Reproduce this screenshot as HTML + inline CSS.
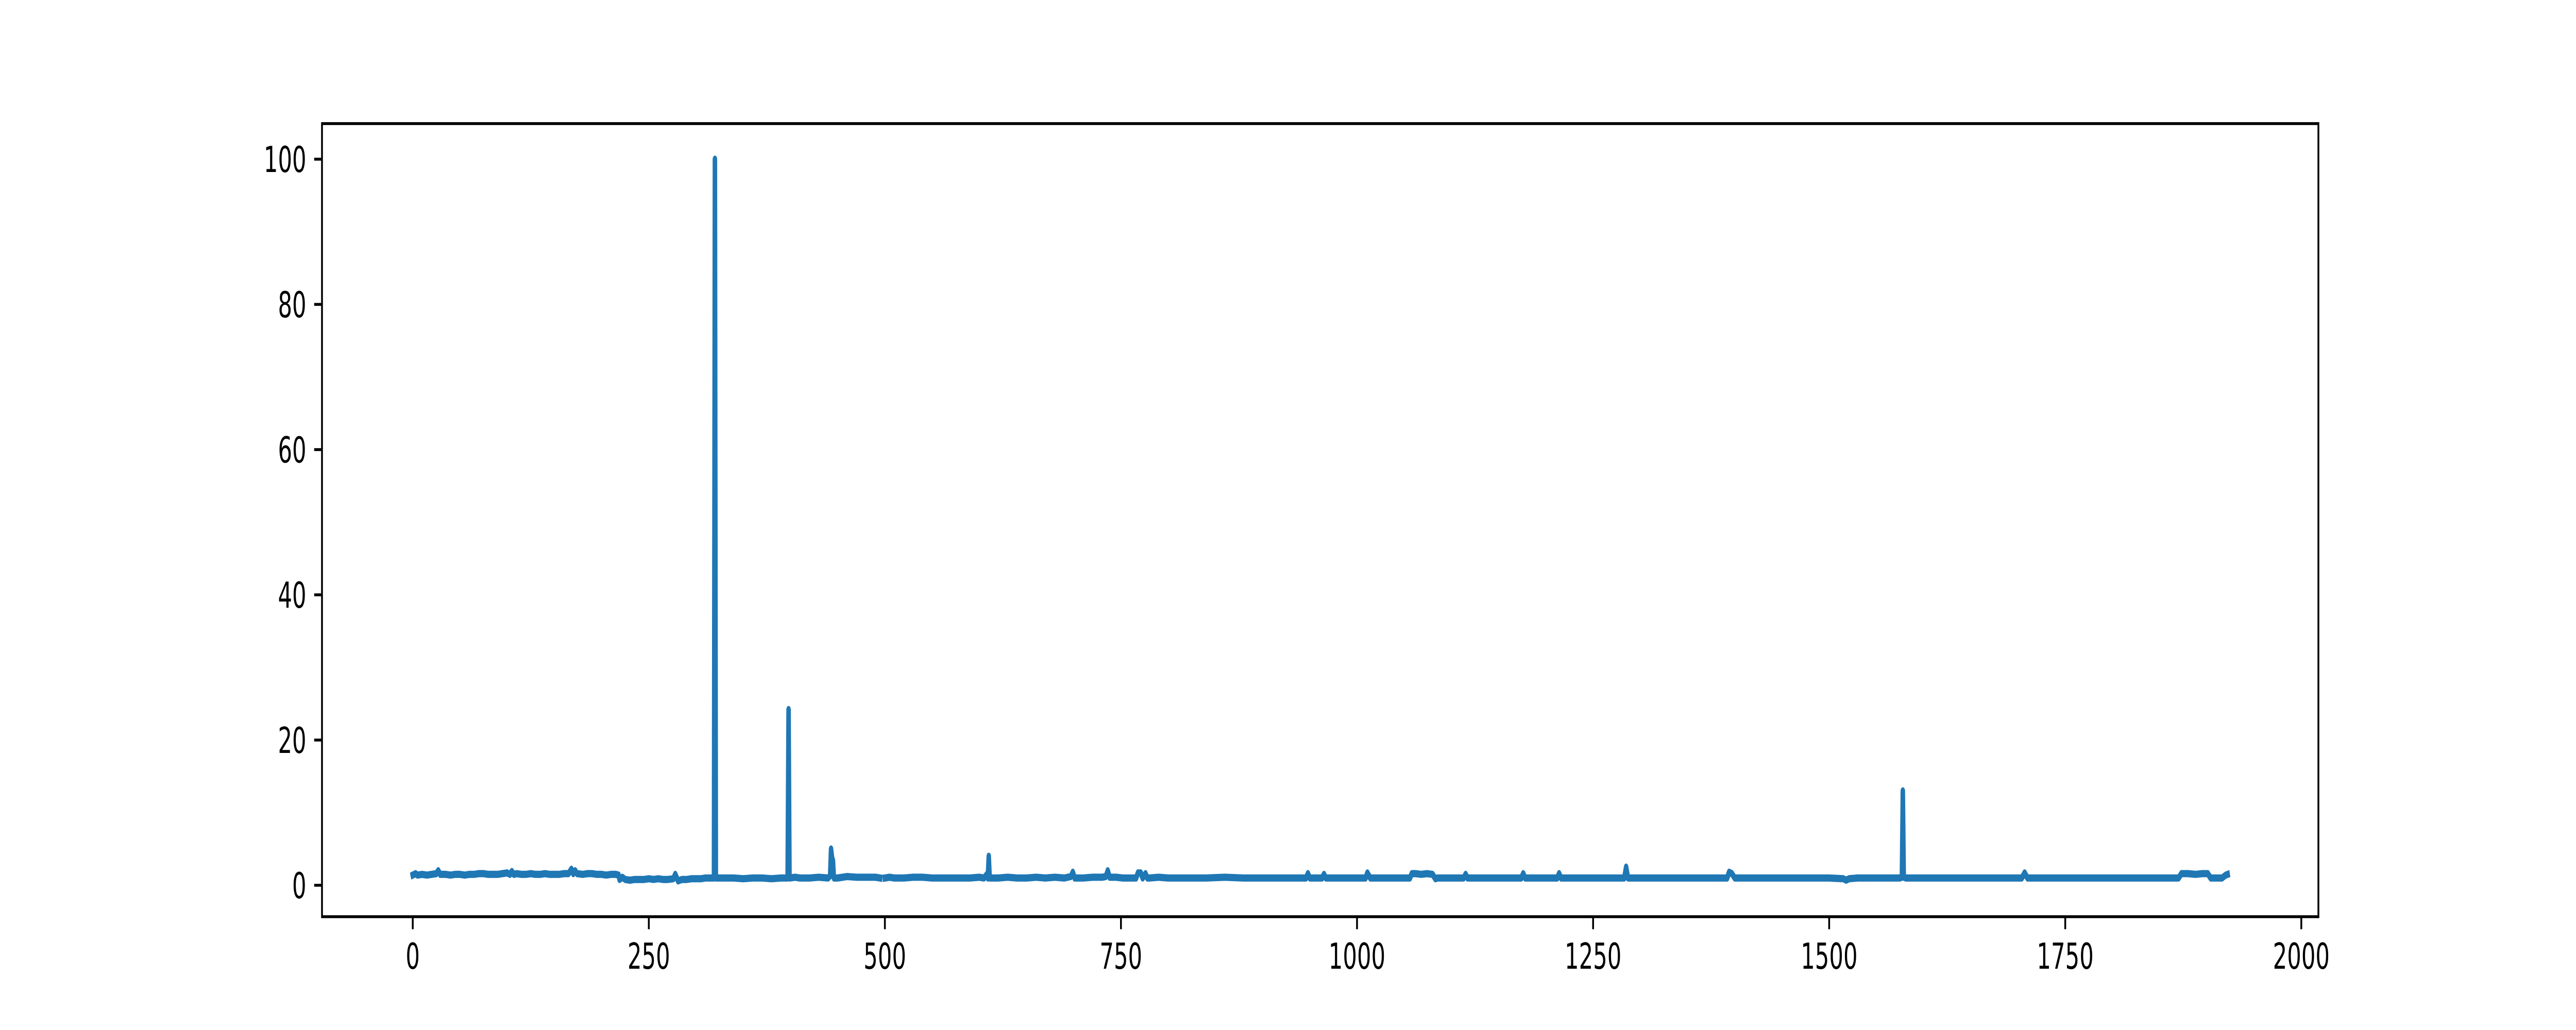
<!DOCTYPE html>
<html><head><meta charset="utf-8"><style>
html,body{margin:0;padding:0;background:#fff;width:100%;height:100%;overflow:hidden;}
svg{display:block;width:100vw;height:100vh;font-family:"DejaVu Sans","Liberation Sans",sans-serif;}
</style></head><body>
<svg id="chart" viewBox="0 0 8000 2000" preserveAspectRatio="none" xmlns="http://www.w3.org/2000/svg">
<rect x="0" y="0" width="8000" height="2000" fill="#fff"/>
<g id="plot"></g>
</svg>
<script>
const xs = [
0,3,5,10,15,20,25,27,29,35,40,45,50,55,60,65,70,75,80,85,90,95,100,103,105,107,110,115,120,125,130,135,140,145,150,155,160,165,168,170,172,174,180,185,190,195,200,205,210,215,218,219,222,225,230,235,240,245,250,255,260,265,270,276,278,280,281,285,290,295,300,305,310,315,319,320,321,325,330,340,350,360,370,380,390,397,398,399,405,410,420,430,440,442,443,444,445,446,450,460,470,480,490,495,497,500,505,510,520,530,540,550,560,570,580,590,600,605,608,609,610,611,620,630,640,650,660,670,680,690,697,699,701,710,720,730,734,736,738,745,752,760,766,768,771,773,776,778,
780,790,800,820,840,860,880,900,920,940,
946,948,950,963,965,967,980,1000,1009,1011,
1014,1020,1030,1040,1050,1056,1058,1062,1068,1074,
1080,1083,1085,1090,1100,1113,1115,1117,1120,1130,
1140,1150,1160,1174,1176,1178,1190,1200,1212,1214,
1216,1230,1250,1270,1283,1285,1287,1300,1320,1340,
1360,1380,1392,1394,1397,1400,1420,1440,1460,1480,
1500,1515,1518,1521,1530,1545,1560,1575,1577,1578,
1579,1581,1590,1610,1630,1650,1670,1690,1704,1707,
1710,1720,1740,1760,1780,1800,1820,1840,1860,1870,
1873,1880,1888,1895,1901,1904,1910,1916,1920,1922];
const ys = [
1.4,1.6,1.4,1.5,1.4,1.5,1.6,2.0,1.5,1.5,1.4,1.5,1.5,1.4,1.5,1.5,1.6,1.6,1.5,1.5,1.5,1.6,1.7,1.5,1.9,1.5,1.6,1.5,1.5,1.6,1.5,1.5,1.6,1.5,1.5,1.5,1.6,1.6,2.2,1.6,2.0,1.6,1.5,1.6,1.6,1.5,1.5,1.4,1.5,1.5,1.4,0.8,1.1,0.8,0.7,0.8,0.8,0.8,0.9,0.8,0.9,0.8,0.8,0.9,1.5,0.9,0.6,0.8,0.8,0.9,0.9,0.9,1.0,1.0,1.0,100,1.0,1.0,1.0,1.0,0.9,1.0,1.0,0.9,1.0,1.0,24.2,1.0,1.1,1.0,1.0,1.1,1.0,1.3,5.0,3.8,3.4,1.0,1.0,1.2,1.1,1.1,1.1,1.0,null,1.0,1.1,1.0,1.0,1.1,1.1,1.0,1.0,1.0,1.0,1.0,1.1,1.0,1.5,1.0,4.0,1.0,1.0,1.1,1.0,1.0,1.1,1.0,1.1,1.0,1.2,1.8,1.0,1.0,1.1,1.1,1.2,2.0,1.1,1.1,1.0,1.0,1.0,1.7,1.7,1.0,1.6,1.0,
1.0,1.1,1.0,1.0,1.0,1.1,1.0,1.0,1.0,1.0,
1.0,1.6,1.0,1.0,1.5,1.0,1.0,1.0,1.0,1.7,
1.0,1.0,1.0,1.0,1.0,1.0,1.6,1.6,1.5,1.6,
1.5,0.9,1.0,1.0,1.0,1.0,1.5,1.0,1.0,1.0,
1.0,1.0,1.0,1.0,1.6,1.0,1.0,1.0,1.0,1.6,
1.0,1.0,1.0,1.0,1.0,2.5,1.0,1.0,1.0,1.0,
1.0,1.0,1.0,1.8,1.6,1.0,1.0,1.0,1.0,1.0,
1.0,0.9,0.7,0.9,1.0,1.0,1.0,1.0,1.1,13.0,
1.1,1.0,1.0,1.0,1.0,1.0,1.0,1.0,1.0,1.7,
1.0,1.0,1.0,1.0,1.0,1.0,1.0,1.0,1.0,1.0,
1.6,1.6,1.5,1.6,1.6,1.0,1.0,1.0,1.4,1.5];
const xTicks = [0,250,500,750,1000,1250,1500,1750,2000];
const yTicks = [0,20,40,60,80,100];

const L=1000,R=7200,T=240,B=1780;
const xMin=-96.1,xMax=2018.1,yMin=-4.33,yMax=104.9;
function sx(v){return L+(v-xMin)/(xMax-xMin)*(R-L);}
function sy(v){return B-(v-yMin)/(yMax-yMin)*(B-T);}
const NS="http://www.w3.org/2000/svg";
const g=document.getElementById('plot');
function mk(tag,attrs,parent){const e=document.createElementNS(NS,tag);for(const k in attrs)e.setAttribute(k,attrs[k]);(parent||g).appendChild(e);return e;}

let d="",pen=false;
const n=Math.min(xs.length,ys.length);
for(let i=0;i<n;i++){
  if(ys[i]===null){pen=false;continue;}
  d+=(pen?"L":"M")+sx(xs[i]).toFixed(1)+","+sy(ys[i]).toFixed(1);
  pen=true;
}
const clip=mk('clipPath',{id:'clp'});
mk('rect',{x:L,y:T,width:R-L,height:B-T},clip);
const line=mk('path',{d:d,fill:'none',stroke:'#1f77b4','stroke-width':14,'stroke-linejoin':'round','stroke-linecap':'square','clip-path':'url(#clp)'});



xTicks.forEach(t=>{
  const x=sx(t);
  const tk=mk('line',{x1:x,x2:x,y1:B,y2:B+24.3,stroke:'#000','stroke-width':5.6});
  
  
  const tx=mk('text',{x:x,y:B+48+53,'text-anchor':'middle','font-size':69.4,fill:'#000'});
  tx.textContent=t;
  
  
});
yTicks.forEach(t=>{
  const y=sy(t);
  const tk=mk('line',{x1:L-24.3,x2:L,y1:y,y2:y,stroke:'#000','stroke-width':5.6});
  
  
  const tx=mk('text',{x:L-48.6,y:y+25,'text-anchor':'end','font-size':69.4,fill:'#000'});
  tx.textContent=t;
  
  
});
const fr=mk('rect',{x:L,y:T,width:R-L,height:B-T,fill:'none',stroke:'#000','stroke-width':5.6});


</script>
</body></html>
